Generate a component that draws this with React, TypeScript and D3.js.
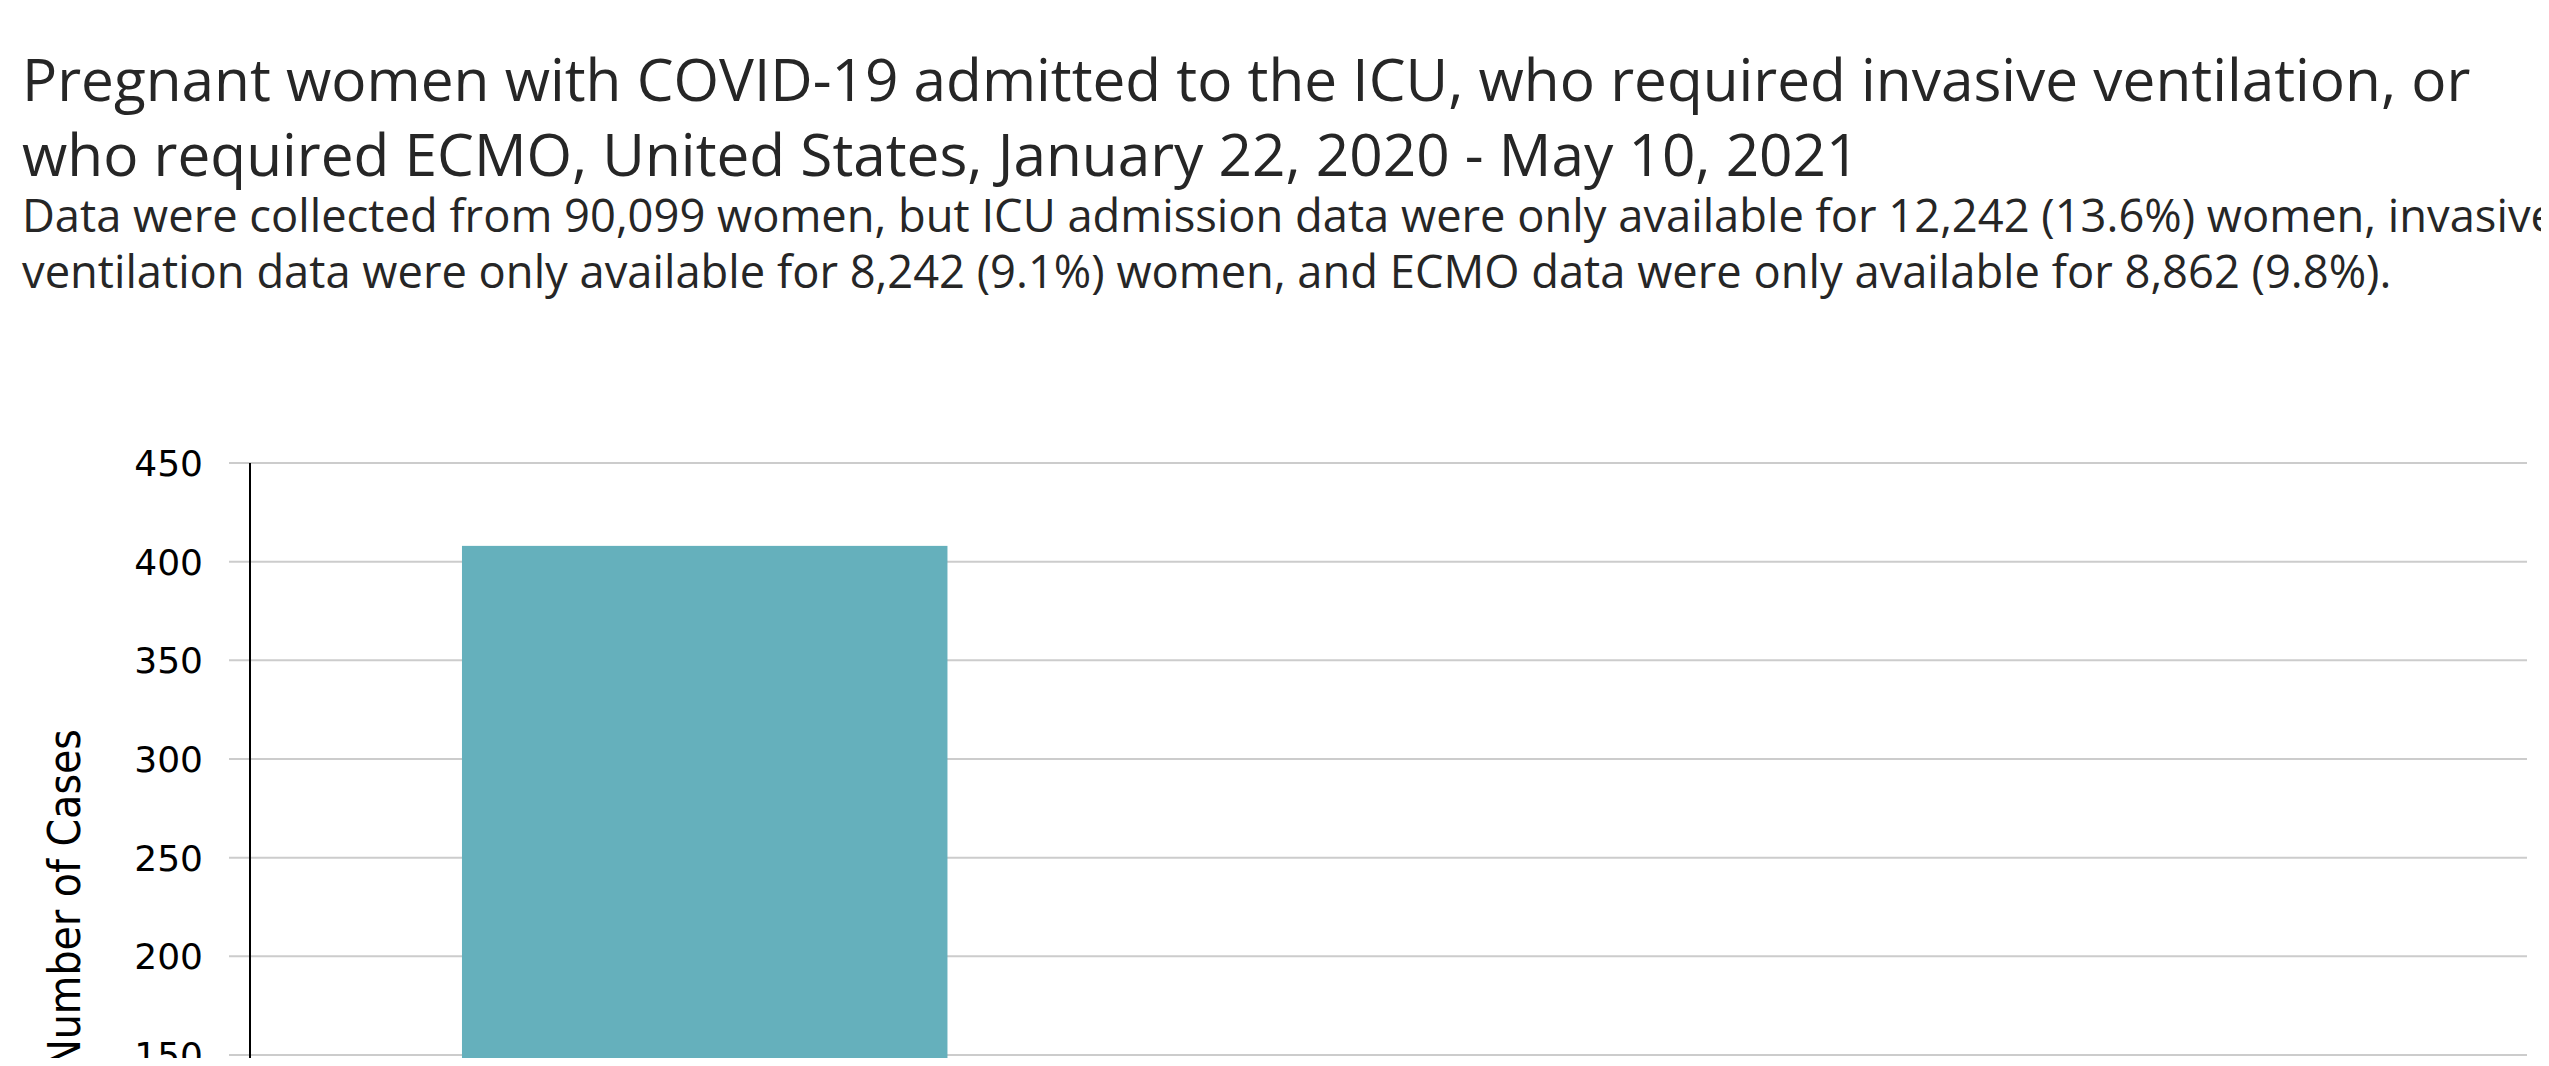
import React, { useEffect, useRef } from 'react';
import * as d3 from 'd3';

const titleLines = [
  'Pregnant women with COVID-19 admitted to the ICU, who required invasive ventilation, or',
  'who required ECMO, United States, January 22, 2020 - May 10, 2021',
];
const subtitleLines = [
  'Data were collected from 90,099 women, but ICU admission data were only available for 12,242 (13.6%) women, invasive',
  'ventilation data were only available for 8,242 (9.1%) women, and ECMO data were only available for 8,862 (9.8%).',
];

// categories and counts
const categories = ['ICU admission', 'Invasive ventilation', 'ECMO'];
const cases = [408, 123, 35];
const yTicks = [0, 50, 100, 150, 200, 250, 300, 350, 400, 450];

const BarChart: React.FC = () => {
  const svgRef = useRef<SVGSVGElement>(null);

  useEffect(() => {
    if (!svgRef.current) return;
    const svg = d3.select(svgRef.current);
    svg.selectAll('*').remove();

    const margin = { left: 242, right: 2519, top: 455, bottom: 1343 };

    // ### Titles
    svg
      .append('g')
      .selectAll('text')
      .data(titleLines)
      .join('text')
      .attr('x', 14)
      .attr('y', (d, i) => 93 + i * 75)
      .attr('font-family', '"Open Sans", sans-serif')
      .attr('font-size', 58.5)
      .attr('fill', '#262626')
      .text(d => d);

    svg
      .append('g')
      .selectAll('text')
      .data(subtitleLines)
      .join('text')
      .attr('x', 14)
      .attr('y', (d, i) => 224 + i * 56)
      .attr('font-family', '"Open Sans", sans-serif')
      .attr('font-size', 45.3)
      .attr('fill', '#262626')
      .text(d => d);

    // ### Scales
    const xScale = d3
      .scaleBand()
      .domain(categories)
      .range([margin.left, margin.right])
      .paddingInner(0.29)
      .paddingOuter(0.31);

    const yScale = d3
      .scaleLinear()
      .domain([0, 450])
      .range([margin.bottom, margin.top]);

    // ### Gridlines + ticks
    const grid = svg.append('g');
    grid
      .selectAll('line')
      .data(yTicks)
      .join('line')
      .attr('x1', margin.left - 21)
      .attr('x2', margin.right)
      .attr('y1', d => yScale(d))
      .attr('y2', d => yScale(d))
      .attr('stroke', '#cccccc')
      .attr('stroke-width', 2);

    grid
      .selectAll('text')
      .data(yTicks)
      .join('text')
      .attr('x', margin.left - 47)
      .attr('y', d => yScale(d))
      .attr('dy', '0.36em')
      .attr('text-anchor', 'end')
      .attr('font-family', '"DejaVu Sans", Verdana, sans-serif')
      .attr('font-size', 36)
      .attr('fill', '#000')
      .text(d => d);

    // ### Bars
    svg
      .append('g')
      .selectAll('rect')
      .data(categories)
      .join('rect')
      .attr('x', d => xScale(d) as number)
      .attr('width', xScale.bandwidth())
      .attr('y', (d, i) => yScale(cases[i]))
      .attr('height', (d, i) => yScale(0) - yScale(cases[i]))
      .attr('fill', '#65b0bc');

    // ### Axes
    svg
      .append('line')
      .attr('x1', margin.left)
      .attr('x2', margin.left)
      .attr('y1', yScale(450))
      .attr('y2', yScale(0))
      .attr('stroke', '#000')
      .attr('stroke-width', 2);

    svg
      .append('g')
      .attr('transform', `translate(0, ${yScale(0)})`)
      .call(d3.axisBottom(xScale).tickSize(0).tickPadding(20))
      .call(g => g.select('.domain').attr('stroke', '#000').attr('stroke-width', 2))
      .call(g =>
        g.selectAll('text').attr('font-family', '"DejaVu Sans", sans-serif').attr('font-size', 36)
      );

    // y title, its end pinned near the top of the plot
    svg
      .append('text')
      .attr('transform', `translate(72, ${yScale(300) - 30}) rotate(-90)`)
      .attr('text-anchor', 'end')
      .attr('font-family', '"DejaVu Sans Condensed", "Liberation Sans", Arial, sans-serif')
      .attr('font-size', 44)
      .attr('fill', '#000')
      .text('Number of Cases');
  }, []);

  return (
    <svg
      ref={svgRef}
      width={2541}
      height={1050}
      style={{ display: 'block', overflow: 'hidden', background: '#fff' }}
    ></svg>
  );
};

export default function App() {
  return <BarChart />;
}
